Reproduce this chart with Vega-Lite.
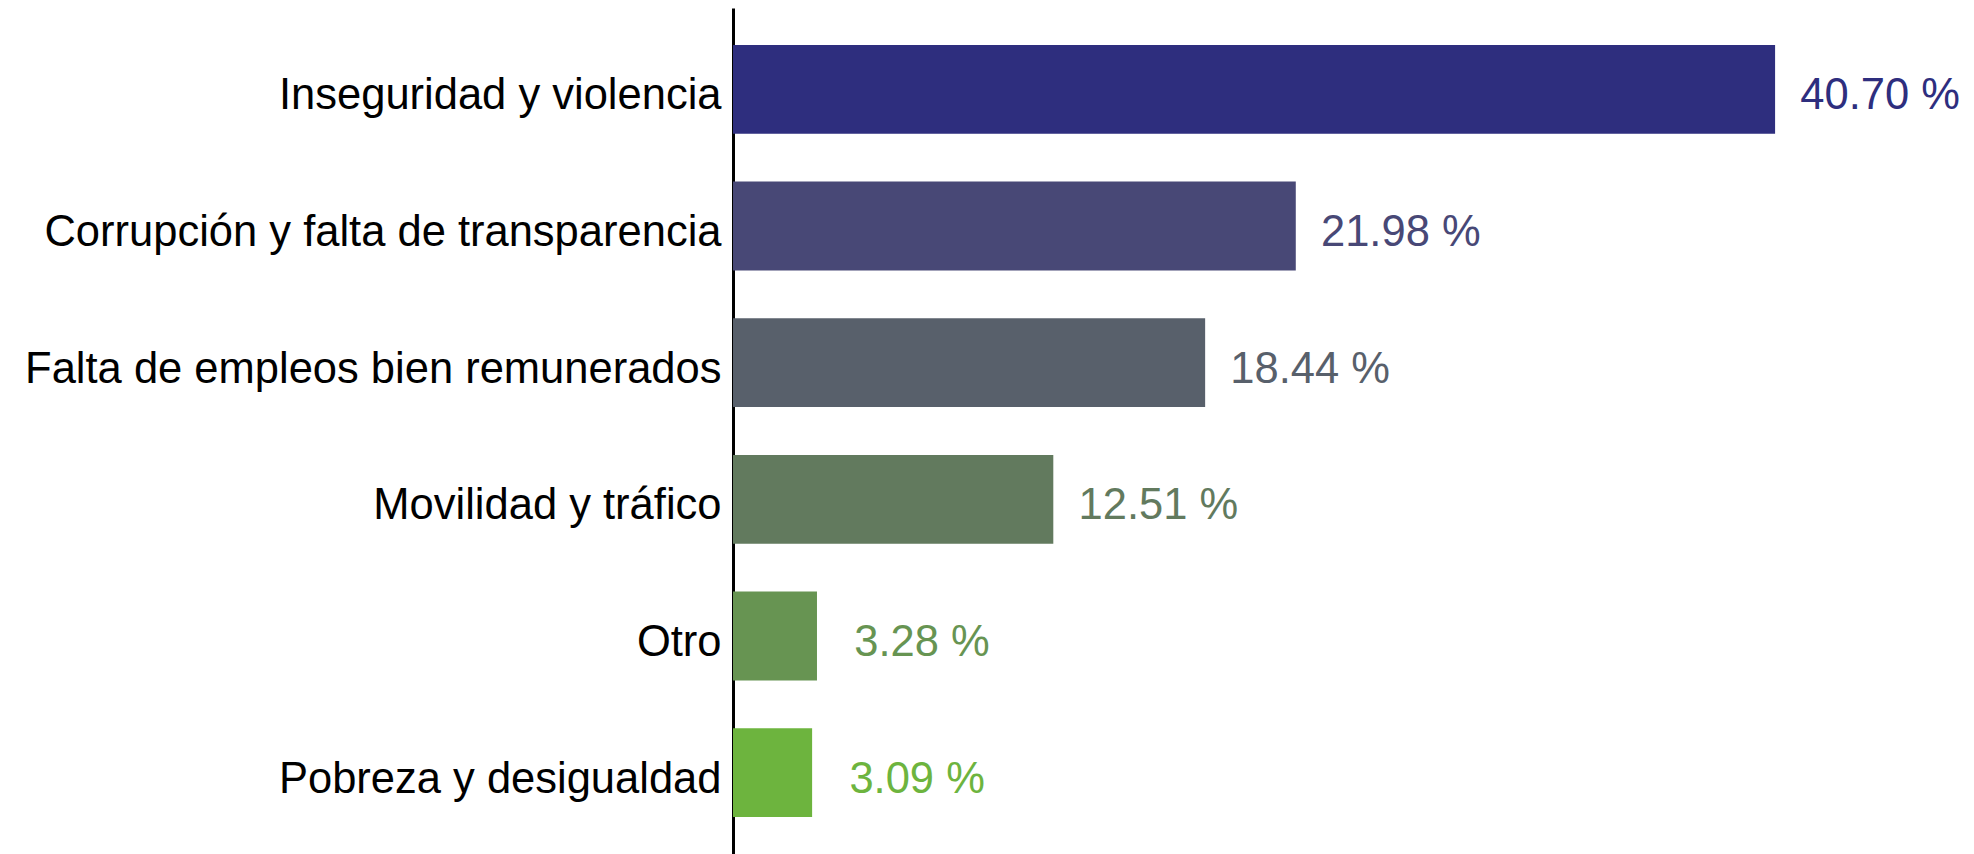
{
  "$schema": "https://vega.github.io/schema/vega-lite/v6.json",
  "autosize": {"type": "none"},
  "padding": {"left": 733, "top": 8, "right": 12, "bottom": 0},
  "width": 1229,
  "height": 846,
  "background": "white",
  "config": {
    "view": {"stroke": null},
    "font": "Liberation Sans"
  },
  "data": {
    "values": [
      {"tema": "Inseguridad y violencia", "valor": 40.70, "etiqueta": "40.70 %"},
      {"tema": "Corrupción y falta de transparencia", "valor": 21.98, "etiqueta": "21.98 %"},
      {"tema": "Falta de empleos bien remunerados", "valor": 18.44, "etiqueta": "18.44 %"},
      {"tema": "Movilidad y tráfico", "valor": 12.51, "etiqueta": "12.51 %"},
      {"tema": "Otro", "valor": 3.28, "etiqueta": "3.28 %"},
      {"tema": "Pobreza y desigualdad", "valor": 3.09, "etiqueta": "3.09 %"}
    ]
  },
  "encoding": {
    "y": {
      "field": "tema",
      "type": "nominal",
      "sort": null,
      "scale": {"paddingInner": 0.35, "paddingOuter": 0.27},
      "axis": {
        "title": null,
        "domain": true,
        "domainColor": "#000000",
        "domainWidth": 3,
        "ticks": false,
        "labelFontSize": 43.5,
        "labelColor": "#000000",
        "labelPadding": 12,
        "labelLimit": 0,
        "labelOffset": 7,
        "labelFont": "Liberation Sans"
      }
    },
    "x": {
      "field": "valor",
      "type": "quantitative",
      "scale": {"domain": [0, 48], "nice": false},
      "axis": null
    },
    "color": {
      "field": "tema",
      "type": "nominal",
      "sort": null,
      "scale": {
        "domain": ["Inseguridad y violencia", "Corrupción y falta de transparencia", "Falta de empleos bien remunerados", "Movilidad y tráfico", "Otro", "Pobreza y desigualdad"],
        "range": ["#2E2E7E", "#484876", "#58606B", "#627A5E", "#679452", "#6DB43E"]
      },
      "legend": null
    }
  },
  "layer": [
    {"mark": {"type": "bar"}},
    {
      "mark": {"type": "text", "align": "center", "baseline": "middle", "dx": 105, "dy": 7, "fontSize": 43.5, "font": "Liberation Sans"},
      "encoding": {
        "text": {"field": "etiqueta", "type": "nominal"}
      }
    }
  ]
}
